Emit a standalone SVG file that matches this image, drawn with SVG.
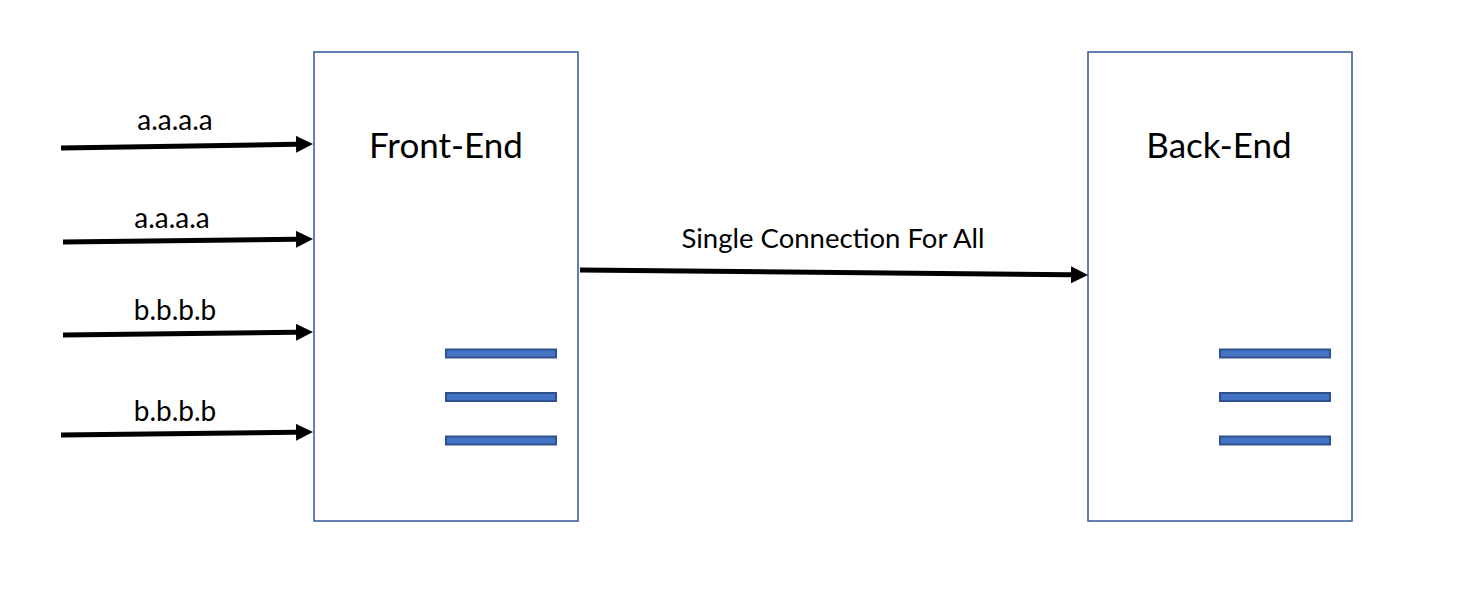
<svg xmlns="http://www.w3.org/2000/svg" width="1466" height="608" viewBox="0 0 1466 608">
<defs>
<style>
.box{fill:#fff;stroke:#2F5597;stroke-width:1.5}
.bar{fill:#4472C4;stroke:#2F528F;stroke-width:2}
.lbl{font-family:Lato,"Open Sans","Liberation Sans",sans-serif;fill:#000}
.ttl{font-size:35px}
.sm{font-size:27.5px}
.in{font-size:28px}
.arr{stroke:#000;stroke-width:5;fill:none;marker-end:url(#ah)}
</style>
<marker id="ah" markerUnits="userSpaceOnUse" markerWidth="18" markerHeight="18" refX="0" refY="8.5" orient="auto">
<path d="M0,0 L17,8.5 L0,17 z" fill="#000"/>
</marker>
</defs>
<rect width="1466" height="608" fill="#fff"/>
<g id="front-end">
<rect class="box" x="314" y="52" width="264" height="469"/>
<text class="lbl ttl" x="446" y="158" text-anchor="middle">Front-End</text>
<rect class="bar" x="446" y="349.5" width="110" height="8"/>
<rect class="bar" x="446" y="393" width="110" height="8"/>
<rect class="bar" x="446" y="436.5" width="110" height="8"/>
</g>
<g id="back-end">
<rect class="box" x="1088" y="52" width="264" height="469"/>
<text class="lbl ttl" x="1219" y="158" text-anchor="middle">Back-End</text>
<rect class="bar" x="1220" y="349.5" width="110" height="8"/>
<rect class="bar" x="1220" y="393" width="110" height="8"/>
<rect class="bar" x="1220" y="436.5" width="110" height="8"/>
</g>
<g id="connectors">
<line class="arr" x1="61" y1="148" x2="296" y2="144.3"/>
<text class="lbl in" x="175" y="130" text-anchor="middle">a.a.a.a</text>
<line class="arr" x1="63" y1="242" x2="296" y2="239.3"/>
<text class="lbl in" x="172" y="228" text-anchor="middle">a.a.a.a</text>
<line class="arr" x1="63" y1="335" x2="296" y2="332.3"/>
<text class="lbl in" x="175" y="320" text-anchor="middle">b.b.b.b</text>
<line class="arr" x1="61" y1="435" x2="296" y2="432.3"/>
<text class="lbl in" x="175" y="421" text-anchor="middle">b.b.b.b</text>
<line class="arr" x1="580" y1="270" x2="1071" y2="274.8"/>
<text class="lbl sm" x="833" y="248" text-anchor="middle">Single Connection For All</text>
</g>
</svg>
